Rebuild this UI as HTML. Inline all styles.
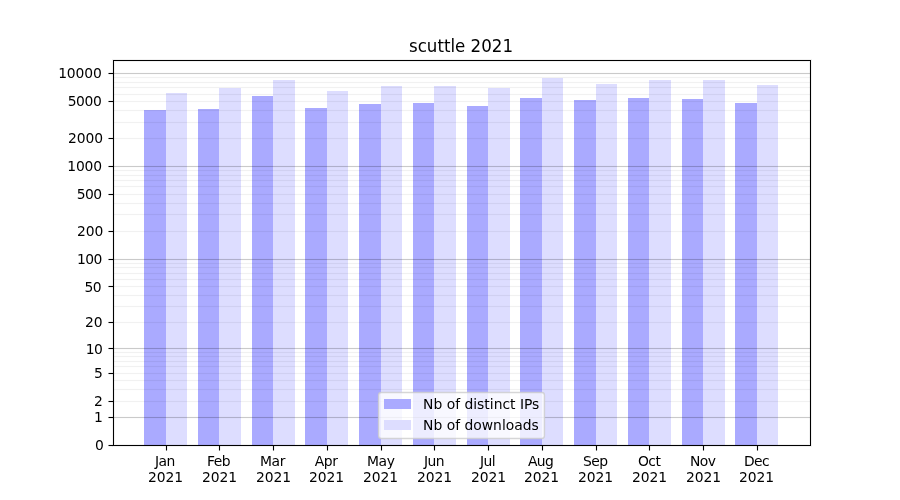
<!DOCTYPE html>
<html lang="en">
<head>
<meta charset="utf-8">
<title>scuttle 2021</title>
<style>
html,body{margin:0;padding:0;background:#fff;}
body{width:900px;height:500px;overflow:hidden;}
svg{display:block;}
text{font-family:"DejaVu Sans","Liberation Sans",sans-serif;fill:#000;}
.t{font-size:13.889px;}
.tt{font-size:16.667px;}
</style>
</head>
<body>
<svg width="900" height="500" viewBox="0 0 900 500">
<rect x="0" y="0" width="900" height="500" fill="#ffffff"/>
<g shape-rendering="crispEdges">
<rect x="144" y="110" width="22" height="335" fill="#aaaaff"/>
<rect x="166" y="93" width="21" height="352" fill="#ddddff"/>
<rect x="198" y="109" width="21" height="336" fill="#aaaaff"/>
<rect x="219" y="88" width="22" height="357" fill="#ddddff"/>
<rect x="252" y="96" width="21" height="349" fill="#aaaaff"/>
<rect x="273" y="80" width="22" height="365" fill="#ddddff"/>
<rect x="305" y="108" width="22" height="337" fill="#aaaaff"/>
<rect x="327" y="91" width="21" height="354" fill="#ddddff"/>
<rect x="359" y="104" width="22" height="341" fill="#aaaaff"/>
<rect x="381" y="86" width="21" height="359" fill="#ddddff"/>
<rect x="413" y="103" width="21" height="342" fill="#aaaaff"/>
<rect x="434" y="86" width="22" height="359" fill="#ddddff"/>
<rect x="467" y="106" width="21" height="339" fill="#aaaaff"/>
<rect x="488" y="88" width="22" height="357" fill="#ddddff"/>
<rect x="520" y="98" width="22" height="347" fill="#aaaaff"/>
<rect x="542" y="78" width="21" height="367" fill="#ddddff"/>
<rect x="574" y="100" width="22" height="345" fill="#aaaaff"/>
<rect x="596" y="84" width="21" height="361" fill="#ddddff"/>
<rect x="628" y="98" width="21" height="347" fill="#aaaaff"/>
<rect x="649" y="80" width="22" height="365" fill="#ddddff"/>
<rect x="682" y="99" width="21" height="346" fill="#aaaaff"/>
<rect x="703" y="80" width="22" height="365" fill="#ddddff"/>
<rect x="735" y="103" width="22" height="342" fill="#aaaaff"/>
<rect x="757" y="85" width="21" height="360" fill="#ddddff"/>
</g>
<g shape-rendering="crispEdges" fill="#000000">
<rect x="113" y="77" width="697" height="1" fill-opacity="0.055"/>
<rect x="113" y="76" width="697" height="1" fill-opacity="0.004"/>
<rect x="113" y="78" width="697" height="1" fill-opacity="0.004"/>
<rect x="113" y="82" width="697" height="1" fill-opacity="0.055"/>
<rect x="113" y="81" width="697" height="1" fill-opacity="0.004"/>
<rect x="113" y="83" width="697" height="1" fill-opacity="0.004"/>
<rect x="113" y="87" width="697" height="1" fill-opacity="0.055"/>
<rect x="113" y="86" width="697" height="1" fill-opacity="0.004"/>
<rect x="113" y="88" width="697" height="1" fill-opacity="0.004"/>
<rect x="113" y="94" width="697" height="1" fill-opacity="0.055"/>
<rect x="113" y="93" width="697" height="1" fill-opacity="0.004"/>
<rect x="113" y="95" width="697" height="1" fill-opacity="0.004"/>
<rect x="113" y="101" width="697" height="1" fill-opacity="0.055"/>
<rect x="113" y="100" width="697" height="1" fill-opacity="0.004"/>
<rect x="113" y="102" width="697" height="1" fill-opacity="0.004"/>
<rect x="113" y="110" width="697" height="1" fill-opacity="0.055"/>
<rect x="113" y="109" width="697" height="1" fill-opacity="0.004"/>
<rect x="113" y="111" width="697" height="1" fill-opacity="0.004"/>
<rect x="113" y="122" width="697" height="1" fill-opacity="0.055"/>
<rect x="113" y="121" width="697" height="1" fill-opacity="0.004"/>
<rect x="113" y="123" width="697" height="1" fill-opacity="0.004"/>
<rect x="113" y="138" width="697" height="1" fill-opacity="0.055"/>
<rect x="113" y="137" width="697" height="1" fill-opacity="0.004"/>
<rect x="113" y="139" width="697" height="1" fill-opacity="0.004"/>
<rect x="113" y="170" width="697" height="1" fill-opacity="0.055"/>
<rect x="113" y="169" width="697" height="1" fill-opacity="0.004"/>
<rect x="113" y="171" width="697" height="1" fill-opacity="0.004"/>
<rect x="113" y="175" width="697" height="1" fill-opacity="0.055"/>
<rect x="113" y="174" width="697" height="1" fill-opacity="0.004"/>
<rect x="113" y="176" width="697" height="1" fill-opacity="0.004"/>
<rect x="113" y="180" width="697" height="1" fill-opacity="0.055"/>
<rect x="113" y="179" width="697" height="1" fill-opacity="0.004"/>
<rect x="113" y="181" width="697" height="1" fill-opacity="0.004"/>
<rect x="113" y="186" width="697" height="1" fill-opacity="0.055"/>
<rect x="113" y="185" width="697" height="1" fill-opacity="0.004"/>
<rect x="113" y="187" width="697" height="1" fill-opacity="0.004"/>
<rect x="113" y="194" width="697" height="1" fill-opacity="0.055"/>
<rect x="113" y="193" width="697" height="1" fill-opacity="0.004"/>
<rect x="113" y="195" width="697" height="1" fill-opacity="0.004"/>
<rect x="113" y="203" width="697" height="1" fill-opacity="0.055"/>
<rect x="113" y="202" width="697" height="1" fill-opacity="0.004"/>
<rect x="113" y="204" width="697" height="1" fill-opacity="0.004"/>
<rect x="113" y="214" width="697" height="1" fill-opacity="0.055"/>
<rect x="113" y="213" width="697" height="1" fill-opacity="0.004"/>
<rect x="113" y="215" width="697" height="1" fill-opacity="0.004"/>
<rect x="113" y="231" width="697" height="1" fill-opacity="0.055"/>
<rect x="113" y="230" width="697" height="1" fill-opacity="0.004"/>
<rect x="113" y="232" width="697" height="1" fill-opacity="0.004"/>
<rect x="113" y="263" width="697" height="1" fill-opacity="0.055"/>
<rect x="113" y="262" width="697" height="1" fill-opacity="0.004"/>
<rect x="113" y="264" width="697" height="1" fill-opacity="0.004"/>
<rect x="113" y="267" width="697" height="1" fill-opacity="0.055"/>
<rect x="113" y="266" width="697" height="1" fill-opacity="0.004"/>
<rect x="113" y="268" width="697" height="1" fill-opacity="0.004"/>
<rect x="113" y="273" width="697" height="1" fill-opacity="0.055"/>
<rect x="113" y="272" width="697" height="1" fill-opacity="0.004"/>
<rect x="113" y="274" width="697" height="1" fill-opacity="0.004"/>
<rect x="113" y="279" width="697" height="1" fill-opacity="0.055"/>
<rect x="113" y="278" width="697" height="1" fill-opacity="0.004"/>
<rect x="113" y="280" width="697" height="1" fill-opacity="0.004"/>
<rect x="113" y="286" width="697" height="1" fill-opacity="0.055"/>
<rect x="113" y="285" width="697" height="1" fill-opacity="0.004"/>
<rect x="113" y="287" width="697" height="1" fill-opacity="0.004"/>
<rect x="113" y="295" width="697" height="1" fill-opacity="0.055"/>
<rect x="113" y="294" width="697" height="1" fill-opacity="0.004"/>
<rect x="113" y="296" width="697" height="1" fill-opacity="0.004"/>
<rect x="113" y="306" width="697" height="1" fill-opacity="0.055"/>
<rect x="113" y="305" width="697" height="1" fill-opacity="0.004"/>
<rect x="113" y="307" width="697" height="1" fill-opacity="0.004"/>
<rect x="113" y="322" width="697" height="1" fill-opacity="0.055"/>
<rect x="113" y="321" width="697" height="1" fill-opacity="0.004"/>
<rect x="113" y="323" width="697" height="1" fill-opacity="0.004"/>
<rect x="113" y="352" width="697" height="1" fill-opacity="0.055"/>
<rect x="113" y="351" width="697" height="1" fill-opacity="0.004"/>
<rect x="113" y="353" width="697" height="1" fill-opacity="0.004"/>
<rect x="113" y="356" width="697" height="1" fill-opacity="0.055"/>
<rect x="113" y="355" width="697" height="1" fill-opacity="0.004"/>
<rect x="113" y="357" width="697" height="1" fill-opacity="0.004"/>
<rect x="113" y="361" width="697" height="1" fill-opacity="0.055"/>
<rect x="113" y="360" width="697" height="1" fill-opacity="0.004"/>
<rect x="113" y="362" width="697" height="1" fill-opacity="0.004"/>
<rect x="113" y="366" width="697" height="1" fill-opacity="0.055"/>
<rect x="113" y="365" width="697" height="1" fill-opacity="0.004"/>
<rect x="113" y="367" width="697" height="1" fill-opacity="0.004"/>
<rect x="113" y="373" width="697" height="1" fill-opacity="0.055"/>
<rect x="113" y="372" width="697" height="1" fill-opacity="0.004"/>
<rect x="113" y="374" width="697" height="1" fill-opacity="0.004"/>
<rect x="113" y="380" width="697" height="1" fill-opacity="0.055"/>
<rect x="113" y="379" width="697" height="1" fill-opacity="0.004"/>
<rect x="113" y="381" width="697" height="1" fill-opacity="0.004"/>
<rect x="113" y="389" width="697" height="1" fill-opacity="0.055"/>
<rect x="113" y="388" width="697" height="1" fill-opacity="0.004"/>
<rect x="113" y="390" width="697" height="1" fill-opacity="0.004"/>
<rect x="113" y="401" width="697" height="1" fill-opacity="0.055"/>
<rect x="113" y="400" width="697" height="1" fill-opacity="0.004"/>
<rect x="113" y="402" width="697" height="1" fill-opacity="0.004"/>
<rect x="113" y="73" width="697" height="1" fill-opacity="0.208"/>
<rect x="113" y="72" width="697" height="1" fill-opacity="0.012"/>
<rect x="113" y="74" width="697" height="1" fill-opacity="0.012"/>
<rect x="113" y="166" width="697" height="1" fill-opacity="0.208"/>
<rect x="113" y="165" width="697" height="1" fill-opacity="0.012"/>
<rect x="113" y="167" width="697" height="1" fill-opacity="0.012"/>
<rect x="113" y="259" width="697" height="1" fill-opacity="0.208"/>
<rect x="113" y="258" width="697" height="1" fill-opacity="0.012"/>
<rect x="113" y="260" width="697" height="1" fill-opacity="0.012"/>
<rect x="113" y="348" width="697" height="1" fill-opacity="0.208"/>
<rect x="113" y="347" width="697" height="1" fill-opacity="0.012"/>
<rect x="113" y="349" width="697" height="1" fill-opacity="0.012"/>
<rect x="113" y="417" width="697" height="1" fill-opacity="0.208"/>
<rect x="113" y="416" width="697" height="1" fill-opacity="0.012"/>
<rect x="113" y="418" width="697" height="1" fill-opacity="0.012"/>
</g>
<g shape-rendering="crispEdges" fill="#000000">
<rect x="109" y="445" width="4" height="1"/><rect x="108" y="445" width="1" height="1" fill-opacity="0.5"/><rect x="109" y="444" width="4" height="1" fill-opacity="0.055"/><rect x="109" y="446" width="4" height="1" fill-opacity="0.055"/><rect x="108" y="444" width="1" height="1" fill-opacity="0.027"/><rect x="108" y="446" width="1" height="1" fill-opacity="0.027"/>
<rect x="109" y="417" width="4" height="1"/><rect x="108" y="417" width="1" height="1" fill-opacity="0.5"/><rect x="109" y="416" width="4" height="1" fill-opacity="0.055"/><rect x="109" y="418" width="4" height="1" fill-opacity="0.055"/><rect x="108" y="416" width="1" height="1" fill-opacity="0.027"/><rect x="108" y="418" width="1" height="1" fill-opacity="0.027"/>
<rect x="109" y="401" width="4" height="1"/><rect x="108" y="401" width="1" height="1" fill-opacity="0.5"/><rect x="109" y="400" width="4" height="1" fill-opacity="0.055"/><rect x="109" y="402" width="4" height="1" fill-opacity="0.055"/><rect x="108" y="400" width="1" height="1" fill-opacity="0.027"/><rect x="108" y="402" width="1" height="1" fill-opacity="0.027"/>
<rect x="109" y="373" width="4" height="1"/><rect x="108" y="373" width="1" height="1" fill-opacity="0.5"/><rect x="109" y="372" width="4" height="1" fill-opacity="0.055"/><rect x="109" y="374" width="4" height="1" fill-opacity="0.055"/><rect x="108" y="372" width="1" height="1" fill-opacity="0.027"/><rect x="108" y="374" width="1" height="1" fill-opacity="0.027"/>
<rect x="109" y="348" width="4" height="1"/><rect x="108" y="348" width="1" height="1" fill-opacity="0.5"/><rect x="109" y="347" width="4" height="1" fill-opacity="0.055"/><rect x="109" y="349" width="4" height="1" fill-opacity="0.055"/><rect x="108" y="347" width="1" height="1" fill-opacity="0.027"/><rect x="108" y="349" width="1" height="1" fill-opacity="0.027"/>
<rect x="109" y="322" width="4" height="1"/><rect x="108" y="322" width="1" height="1" fill-opacity="0.5"/><rect x="109" y="321" width="4" height="1" fill-opacity="0.055"/><rect x="109" y="323" width="4" height="1" fill-opacity="0.055"/><rect x="108" y="321" width="1" height="1" fill-opacity="0.027"/><rect x="108" y="323" width="1" height="1" fill-opacity="0.027"/>
<rect x="109" y="286" width="4" height="1"/><rect x="108" y="286" width="1" height="1" fill-opacity="0.5"/><rect x="109" y="285" width="4" height="1" fill-opacity="0.055"/><rect x="109" y="287" width="4" height="1" fill-opacity="0.055"/><rect x="108" y="285" width="1" height="1" fill-opacity="0.027"/><rect x="108" y="287" width="1" height="1" fill-opacity="0.027"/>
<rect x="109" y="259" width="4" height="1"/><rect x="108" y="259" width="1" height="1" fill-opacity="0.5"/><rect x="109" y="258" width="4" height="1" fill-opacity="0.055"/><rect x="109" y="260" width="4" height="1" fill-opacity="0.055"/><rect x="108" y="258" width="1" height="1" fill-opacity="0.027"/><rect x="108" y="260" width="1" height="1" fill-opacity="0.027"/>
<rect x="109" y="231" width="4" height="1"/><rect x="108" y="231" width="1" height="1" fill-opacity="0.5"/><rect x="109" y="230" width="4" height="1" fill-opacity="0.055"/><rect x="109" y="232" width="4" height="1" fill-opacity="0.055"/><rect x="108" y="230" width="1" height="1" fill-opacity="0.027"/><rect x="108" y="232" width="1" height="1" fill-opacity="0.027"/>
<rect x="109" y="194" width="4" height="1"/><rect x="108" y="194" width="1" height="1" fill-opacity="0.5"/><rect x="109" y="193" width="4" height="1" fill-opacity="0.055"/><rect x="109" y="195" width="4" height="1" fill-opacity="0.055"/><rect x="108" y="193" width="1" height="1" fill-opacity="0.027"/><rect x="108" y="195" width="1" height="1" fill-opacity="0.027"/>
<rect x="109" y="166" width="4" height="1"/><rect x="108" y="166" width="1" height="1" fill-opacity="0.5"/><rect x="109" y="165" width="4" height="1" fill-opacity="0.055"/><rect x="109" y="167" width="4" height="1" fill-opacity="0.055"/><rect x="108" y="165" width="1" height="1" fill-opacity="0.027"/><rect x="108" y="167" width="1" height="1" fill-opacity="0.027"/>
<rect x="109" y="138" width="4" height="1"/><rect x="108" y="138" width="1" height="1" fill-opacity="0.5"/><rect x="109" y="137" width="4" height="1" fill-opacity="0.055"/><rect x="109" y="139" width="4" height="1" fill-opacity="0.055"/><rect x="108" y="137" width="1" height="1" fill-opacity="0.027"/><rect x="108" y="139" width="1" height="1" fill-opacity="0.027"/>
<rect x="109" y="101" width="4" height="1"/><rect x="108" y="101" width="1" height="1" fill-opacity="0.5"/><rect x="109" y="100" width="4" height="1" fill-opacity="0.055"/><rect x="109" y="102" width="4" height="1" fill-opacity="0.055"/><rect x="108" y="100" width="1" height="1" fill-opacity="0.027"/><rect x="108" y="102" width="1" height="1" fill-opacity="0.027"/>
<rect x="109" y="73" width="4" height="1"/><rect x="108" y="73" width="1" height="1" fill-opacity="0.5"/><rect x="109" y="72" width="4" height="1" fill-opacity="0.055"/><rect x="109" y="74" width="4" height="1" fill-opacity="0.055"/><rect x="108" y="72" width="1" height="1" fill-opacity="0.027"/><rect x="108" y="74" width="1" height="1" fill-opacity="0.027"/>
<rect x="166" y="446" width="1" height="4"/><rect x="166" y="450" width="1" height="1" fill-opacity="0.5"/><rect x="165" y="446" width="1" height="4" fill-opacity="0.055"/><rect x="167" y="446" width="1" height="4" fill-opacity="0.055"/><rect x="165" y="450" width="1" height="1" fill-opacity="0.027"/><rect x="167" y="450" width="1" height="1" fill-opacity="0.027"/>
<rect x="219" y="446" width="1" height="4"/><rect x="219" y="450" width="1" height="1" fill-opacity="0.5"/><rect x="218" y="446" width="1" height="4" fill-opacity="0.055"/><rect x="220" y="446" width="1" height="4" fill-opacity="0.055"/><rect x="218" y="450" width="1" height="1" fill-opacity="0.027"/><rect x="220" y="450" width="1" height="1" fill-opacity="0.027"/>
<rect x="273" y="446" width="1" height="4"/><rect x="273" y="450" width="1" height="1" fill-opacity="0.5"/><rect x="272" y="446" width="1" height="4" fill-opacity="0.055"/><rect x="274" y="446" width="1" height="4" fill-opacity="0.055"/><rect x="272" y="450" width="1" height="1" fill-opacity="0.027"/><rect x="274" y="450" width="1" height="1" fill-opacity="0.027"/>
<rect x="327" y="446" width="1" height="4"/><rect x="327" y="450" width="1" height="1" fill-opacity="0.5"/><rect x="326" y="446" width="1" height="4" fill-opacity="0.055"/><rect x="328" y="446" width="1" height="4" fill-opacity="0.055"/><rect x="326" y="450" width="1" height="1" fill-opacity="0.027"/><rect x="328" y="450" width="1" height="1" fill-opacity="0.027"/>
<rect x="381" y="446" width="1" height="4"/><rect x="381" y="450" width="1" height="1" fill-opacity="0.5"/><rect x="380" y="446" width="1" height="4" fill-opacity="0.055"/><rect x="382" y="446" width="1" height="4" fill-opacity="0.055"/><rect x="380" y="450" width="1" height="1" fill-opacity="0.027"/><rect x="382" y="450" width="1" height="1" fill-opacity="0.027"/>
<rect x="434" y="446" width="1" height="4"/><rect x="434" y="450" width="1" height="1" fill-opacity="0.5"/><rect x="433" y="446" width="1" height="4" fill-opacity="0.055"/><rect x="435" y="446" width="1" height="4" fill-opacity="0.055"/><rect x="433" y="450" width="1" height="1" fill-opacity="0.027"/><rect x="435" y="450" width="1" height="1" fill-opacity="0.027"/>
<rect x="488" y="446" width="1" height="4"/><rect x="488" y="450" width="1" height="1" fill-opacity="0.5"/><rect x="487" y="446" width="1" height="4" fill-opacity="0.055"/><rect x="489" y="446" width="1" height="4" fill-opacity="0.055"/><rect x="487" y="450" width="1" height="1" fill-opacity="0.027"/><rect x="489" y="450" width="1" height="1" fill-opacity="0.027"/>
<rect x="542" y="446" width="1" height="4"/><rect x="542" y="450" width="1" height="1" fill-opacity="0.5"/><rect x="541" y="446" width="1" height="4" fill-opacity="0.055"/><rect x="543" y="446" width="1" height="4" fill-opacity="0.055"/><rect x="541" y="450" width="1" height="1" fill-opacity="0.027"/><rect x="543" y="450" width="1" height="1" fill-opacity="0.027"/>
<rect x="596" y="446" width="1" height="4"/><rect x="596" y="450" width="1" height="1" fill-opacity="0.5"/><rect x="595" y="446" width="1" height="4" fill-opacity="0.055"/><rect x="597" y="446" width="1" height="4" fill-opacity="0.055"/><rect x="595" y="450" width="1" height="1" fill-opacity="0.027"/><rect x="597" y="450" width="1" height="1" fill-opacity="0.027"/>
<rect x="649" y="446" width="1" height="4"/><rect x="649" y="450" width="1" height="1" fill-opacity="0.5"/><rect x="648" y="446" width="1" height="4" fill-opacity="0.055"/><rect x="650" y="446" width="1" height="4" fill-opacity="0.055"/><rect x="648" y="450" width="1" height="1" fill-opacity="0.027"/><rect x="650" y="450" width="1" height="1" fill-opacity="0.027"/>
<rect x="703" y="446" width="1" height="4"/><rect x="703" y="450" width="1" height="1" fill-opacity="0.5"/><rect x="702" y="446" width="1" height="4" fill-opacity="0.055"/><rect x="704" y="446" width="1" height="4" fill-opacity="0.055"/><rect x="702" y="450" width="1" height="1" fill-opacity="0.027"/><rect x="704" y="450" width="1" height="1" fill-opacity="0.027"/>
<rect x="757" y="446" width="1" height="4"/><rect x="757" y="450" width="1" height="1" fill-opacity="0.5"/><rect x="756" y="446" width="1" height="4" fill-opacity="0.055"/><rect x="758" y="446" width="1" height="4" fill-opacity="0.055"/><rect x="756" y="450" width="1" height="1" fill-opacity="0.027"/><rect x="758" y="450" width="1" height="1" fill-opacity="0.027"/>
<rect x="113" y="60" width="698" height="1"/><rect x="113" y="445" width="698" height="1"/><rect x="113" y="60" width="1" height="386"/><rect x="810" y="60" width="1" height="386"/>
<g fill-opacity="0.055"><rect x="112" y="59" width="700" height="1"/><rect x="114" y="61" width="696" height="1"/><rect x="114" y="444" width="696" height="1"/><rect x="112" y="446" width="700" height="1"/><rect x="112" y="60" width="1" height="386"/><rect x="114" y="62" width="1" height="382"/><rect x="809" y="62" width="1" height="382"/><rect x="811" y="60" width="1" height="386"/></g>
</g>
<g class="t" text-anchor="end">
<text x="103.78" y="450">0</text>
<text x="102.78" y="422">1</text>
<text x="102.78" y="406">2</text>
<text x="102.78" y="378">5</text>
<text letter-spacing="-0.5" x="102.41" y="354">10</text>
<text x="102.66" y="327">20</text>
<text letter-spacing="-0.5" x="101.16" y="292">50</text>
<text letter-spacing="-0.5" x="101.91" y="264">100</text>
<text x="103.41" y="236">200</text>
<text letter-spacing="-0.5" x="101.66" y="199">500</text>
<text letter-spacing="-0.2" x="101.78" y="171">1000</text>
<text letter-spacing="-0.1" x="102.91" y="143">2000</text>
<text letter-spacing="-0.4" x="101.41" y="106">5000</text>
<text letter-spacing="-0.1" x="101.78" y="78">10000</text>
</g>
<g class="t" text-anchor="middle">
<text letter-spacing="-0.5" x="164.95" y="466">Jan</text><text letter-spacing="-0.1" x="165.57" y="482">2021</text>
<text letter-spacing="-0.5" x="218.56" y="466">Feb</text><text x="219.56" y="482">2021</text>
<text letter-spacing="-0.3" x="272.55" y="466">Mar</text><text x="273.55" y="482">2021</text>
<text letter-spacing="-0.4" x="326.16" y="466">Apr</text><text x="326.54" y="482">2021</text>
<text letter-spacing="-0.4" x="380.77" y="466">May</text><text letter-spacing="-0.1" x="380.52" y="482">2021</text>
<text letter-spacing="-0.5" x="434.00" y="466">Jun</text><text letter-spacing="-0.1" x="434.50" y="482">2021</text>
<text letter-spacing="-0.5" x="487.50" y="466">Jul</text><text letter-spacing="-0.1" x="488.50" y="482">2021</text>
<text letter-spacing="-0.6" x="540.61" y="466">Aug</text><text letter-spacing="-0.1" x="541.49" y="482">2021</text>
<text letter-spacing="-0.5" x="595.22" y="466">Sep</text><text letter-spacing="-0.1" x="595.47" y="482">2021</text>
<text letter-spacing="-0.5" x="649.21" y="466">Oct</text><text letter-spacing="-0.1" x="649.58" y="482">2021</text>
<text letter-spacing="-0.5" x="702.70" y="466">Nov</text><text letter-spacing="-0.1" x="703.57" y="482">2021</text>
<text letter-spacing="-0.6" x="756.42" y="466">Dec</text><text x="756.55" y="482">2021</text>
</g>
<text text-anchor="middle" font-size="16.667" transform="translate(461.00 51.5) scale(1.0 1.03)" x="0" y="0">scuttle 2021</text>
<g>
<rect x="378.5" y="392.5" width="166" height="46" rx="2.78" ry="2.78" fill="#ffffff" fill-opacity="0.79"/>
<rect x="378.55" y="392.55" width="165.9" height="45.9" rx="2.75" ry="2.75" fill="none" stroke="#cccccc" stroke-opacity="0.8" stroke-width="1.389"/>
<g shape-rendering="crispEdges"><rect x="384" y="399" width="27" height="10" fill="#aaaaff"/><rect x="384" y="420" width="27" height="10" fill="#ddddff"/></g>
<text class="t" x="423.07" y="409">Nb of distinct IPs</text>
<text class="t" x="423.07" y="430">Nb of downloads</text>
</g>
</svg>
</body>
</html>
